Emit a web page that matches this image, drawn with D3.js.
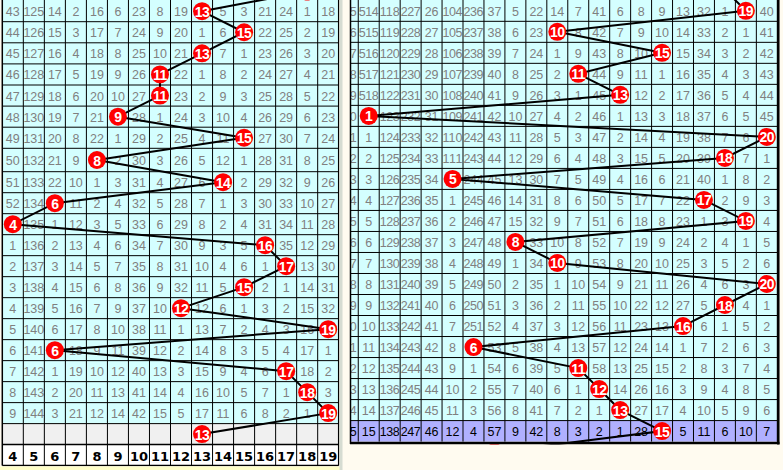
<!DOCTYPE html>
<html><head><meta charset="utf-8">
<script src="https://cdn.jsdelivr.net/npm/d3@7"></script>
<style>html,body{margin:0;padding:0;background:#FFFBF0;}svg{display:block;}</style>
</head><body>
<script>
// ---------- DATA ----------
const leftHeaders = [4,5,6,7,8,9,10,11,12,13,14,15,16,17,18,19];
const leftRows = [
 [43,125,14,2,16,6,23,8,19,null,5,3,21,24,1,18],
 [44,126,15,3,17,7,24,9,20,1,6,null,22,25,2,19],
 [45,127,16,4,18,8,25,10,21,null,7,1,23,26,3,20],
 [46,128,17,5,19,9,26,null,22,1,8,2,24,27,4,21],
 [47,129,18,6,20,10,27,null,23,2,9,3,25,28,5,22],
 [48,130,19,7,21,null,28,1,24,3,10,4,26,29,6,23],
 [49,131,20,8,22,1,29,2,25,4,11,null,27,30,7,24],
 [50,132,21,9,null,2,30,3,26,5,12,1,28,31,8,25],
 [51,133,22,10,1,3,31,4,27,6,null,2,29,32,9,26],
 [52,134,null,11,2,4,32,5,28,7,1,3,30,33,10,27],
 [null,135,1,12,3,5,33,6,29,8,2,4,31,34,11,28],
 [1,136,2,13,4,6,34,7,30,9,3,5,null,35,12,29],
 [2,137,3,14,5,7,35,8,31,10,4,6,1,null,13,30],
 [3,138,4,15,6,8,36,9,32,11,5,null,2,1,14,31],
 [4,139,5,16,7,9,37,10,null,12,6,1,3,2,15,32],
 [5,140,6,17,8,10,38,11,1,13,7,2,4,3,16,null],
 [6,141,null,18,9,11,39,12,2,14,8,3,5,4,17,1],
 [7,142,1,19,10,12,40,13,3,15,9,4,6,null,18,2],
 [8,143,2,20,11,13,41,14,4,16,10,5,7,1,null,3],
 [9,144,3,21,12,14,42,15,5,17,11,6,8,2,1,null]
];
// ball column per row, rows -1 .. 20
const leftBallRows = [-1,0,1,2,3,4,5,6,7,8,9,10,11,12,13,14,15,16,17,18,19,20];
const leftBallCols = [14,9,11,9,7,7,5,11,4,10,2,0,12,13,11,8,15,2,13,14,15,9];

const rightHeaders = [1,2,3,4,5,6,7,8,9,10,11,12,13,14,15,16,17,18,19,20];
const rightPartial = ["5","6","7","8","9","0","1","2","3","4","5","6","7","8","9","0","1","2","3","4","5"];
const rightRows = [
 [514,118,227,26,104,236,37,5,22,14,7,41,6,8,9,13,32,1,null,40],
 [515,119,228,27,105,237,38,6,23,null,8,42,7,9,10,14,33,2,1,41],
 [516,120,229,28,106,238,39,7,24,1,9,43,8,10,null,15,34,3,2,42],
 [517,121,230,29,107,239,40,8,25,2,null,44,9,11,1,16,35,4,3,43],
 [518,122,231,30,108,240,41,9,26,3,1,45,null,12,2,17,36,5,4,44],
 [null,123,232,31,109,241,42,10,27,4,2,46,1,13,3,18,37,6,5,45],
 [1,124,233,32,110,242,43,11,28,5,3,47,2,14,4,19,38,7,6,null],
 [2,125,234,33,111,243,44,12,29,6,4,48,3,15,5,20,39,null,7,1],
 [3,126,235,34,null,244,45,13,30,7,5,49,4,16,6,21,40,1,8,2],
 [4,127,236,35,1,245,46,14,31,8,6,50,5,17,7,22,null,2,9,3],
 [5,128,237,36,2,246,47,15,32,9,7,51,6,18,8,23,1,3,null,4],
 [6,129,238,37,3,247,48,null,33,10,8,52,7,19,9,24,2,4,1,5],
 [7,130,239,38,4,248,49,1,34,null,9,53,8,20,10,25,3,5,2,6],
 [8,131,240,39,5,249,50,2,35,1,10,54,9,21,11,26,4,6,3,null],
 [9,132,241,40,6,250,51,3,36,2,11,55,10,22,12,27,5,null,4,1],
 [10,133,242,41,7,251,52,4,37,3,12,56,11,23,13,null,6,1,5,2],
 [11,134,243,42,8,null,53,5,38,4,13,57,12,24,14,1,7,2,6,3],
 [12,135,244,43,9,1,54,6,39,5,null,58,13,25,15,2,8,3,7,4],
 [13,136,245,44,10,2,55,7,40,6,1,null,14,26,16,3,9,4,8,5],
 [14,137,246,45,11,3,56,8,41,7,2,1,null,27,17,4,10,5,9,6],
 [15,138,247,46,12,4,57,9,42,8,3,2,1,28,null,5,11,6,10,7]
];
const rightBallRows = [-1,0,1,2,3,4,5,6,7,8,9,10,11,12,13,14,15,16,17,18,19,20,21];
const rightBallCols = [17,18,9,14,10,12,0,19,17,4,16,18,7,9,19,17,15,5,10,11,12,14,6];

// ---------- STYLE ----------
const W = 783, H = 470;
const CYAN = "#D4FFFF", GRID = "#000", NUMC = "#808080";
const svg = d3.select("body").append("svg").attr("width", W).attr("height", H);
svg.append("rect").attr("width", W).attr("height", H).attr("fill", "#FFFBF0");

const numFont = "'Liberation Sans', Arial, sans-serif";

function ball(g, cx, cy, label, showLabel) {
  g.append("circle").attr("cx", cx).attr("cy", cy).attr("r", 9).attr("fill", "#FF0000");
  if (!showLabel) return;
  g.append("text").attr("x", cx).attr("y", cy + 0.5).attr("text-anchor", "middle")
    .attr("dominant-baseline", "central").attr("fill", "#fff").attr("font-weight", "bold")
    .attr("font-family", numFont).attr("font-size", 14).attr("letter-spacing", -0.5).text(label);
}

// ---------- LEFT PANEL ----------
const lx = d3.scaleLinear().domain([0, 16]).range([2.3, 338.7]);
const ly = d3.scaleLinear().domain([0, 7, 8, 22]).range([0.6, 148.3, 171.7, 465.6]);
const defs = svg.append("defs");
defs.append("clipPath").attr("id", "clipL").append("rect").attr("x", 0).attr("y", 0).attr("width", 339.5).attr("height", 466.5);
defs.append("clipPath").attr("id", "clipR").append("rect").attr("x", 350.5).attr("y", 0).attr("width", 429).attr("height", 444.5);

const L = svg.append("g").attr("clip-path", "url(#clipL)");
const lcx = c => (lx(c) + lx(c + 1)) / 2;
const lcy = r => (ly(r) + ly(r + 1)) / 2;
L.append("rect").attr("x", lx(0)).attr("y", -30).attr("width", lx(16) - lx(0)).attr("height", ly(20) + 30).attr("fill", CYAN);
L.append("rect").attr("x", lx(0)).attr("y", ly(20)).attr("width", lx(16) - lx(0)).attr("height", ly(21) - ly(20)).attr("fill", "#F0F0F0");
L.append("rect").attr("x", lx(0)).attr("y", ly(21)).attr("width", lx(16) - lx(0)).attr("height", ly(22) - ly(21)).attr("fill", "#FFFFFF");
leftRows.forEach((row, r) => row.forEach((v, c) => {
  if (v === null) return;
  L.append("text").attr("x", lcx(c)).attr("y", lcy(r) + 1).attr("text-anchor", "middle")
    .attr("dominant-baseline", "central").attr("fill", NUMC).attr("font-family", numFont)
    .attr("font-size", 12.5).text(v);
}));
leftHeaders.forEach((h, c) => {
  L.append("text").attr("x", lcx(c)).attr("y", lcy(21) + 1).attr("text-anchor", "middle")
    .attr("dominant-baseline", "central").attr("fill", "#000").attr("font-weight", "bold")
    .attr("font-family", "'DejaVu Sans', sans-serif").attr("font-size", 13).text(h);
});
d3.range(0, 17).forEach(c => L.append("line").attr("x1", lx(c)).attr("x2", lx(c)).attr("y1", -30).attr("y2", ly(22))
  .attr("stroke", GRID).attr("stroke-width", (c === 0 || c === 16) ? 1.5 : 1));
d3.range(1, 23).forEach(r => L.append("line").attr("x1", lx(0)).attr("x2", lx(16)).attr("y1", ly(r)).attr("y2", ly(r))
  .attr("stroke", GRID).attr("stroke-width", (r === 21 || r === 22) ? 1.5 : 1));
const lPts = leftBallRows.map((r, i) => [lcx(leftBallCols[i]), r < 0 ? ly(0) - (ly(1) - ly(0)) / 2 + 1.5 : lcy(r)]);
L.append("path").attr("d", d3.line()(lPts)).attr("fill", "none").attr("stroke", "#000").attr("stroke-width", 2);
leftBallRows.forEach((r, i) => ball(L, lPts[i][0], lPts[i][1], leftHeaders[leftBallCols[i]], r >= 0 && r <= 20));
svg.append("rect").attr("x", 0).attr("y", 466.5).attr("width", 340).attr("height", 4).attr("fill", "#FFFFC8");

// divider
svg.append("rect").attr("x", 339.5).attr("y", 0).attr("width", 3).attr("height", H).attr("fill", "#D6DCD2");

// ---------- RIGHT PANEL ----------
const rx = d3.scaleLinear().domain([-1, 20]).range([337.3, 777.3]);
const ry = d3.scaleLinear().domain([0, 21]).range([0.3, 441.6]);
const rcx = c => (rx(c) + rx(c + 1)) / 2;
const rcy = r => (ry(r) + ry(r + 1)) / 2;
const R = svg.append("g").attr("clip-path", "url(#clipR)");
R.append("rect").attr("x", rx(-1)).attr("y", -30).attr("width", rx(20) - rx(-1)).attr("height", ry(20) + 30).attr("fill", CYAN);
R.append("rect").attr("x", rx(-1)).attr("y", ry(20)).attr("width", rx(20) - rx(-1)).attr("height", ry(21) - ry(20)).attr("fill", "#B0B0FF");
rightPartial.forEach((v, r) => {
  R.append("text").attr("x", rx(0) - 1.5).attr("y", rcy(r) + 1).attr("text-anchor", "end")
    .attr("dominant-baseline", "central").attr("fill", r === 20 ? "#000" : NUMC).attr("font-family", numFont)
    .attr("font-size", 12.5).text(v);
});
rightRows.forEach((row, r) => row.forEach((v, c) => {
  if (v === null) return;
  R.append("text").attr("x", rcx(c)).attr("y", rcy(r) + 1).attr("text-anchor", "middle")
    .attr("dominant-baseline", "central").attr("fill", r === 20 ? "#000" : NUMC).attr("font-family", numFont)
    .attr("font-size", 12.5).attr("textLength", String(v).length >= 3 ? 20 : null).text(v);
}));
d3.range(0, 21).forEach(c => R.append("line").attr("x1", rx(c)).attr("x2", rx(c)).attr("y1", -30).attr("y2", ry(21))
  .attr("stroke", GRID).attr("stroke-width", 1));
d3.range(1, 21).forEach(r => R.append("line").attr("x1", rx(-1)).attr("x2", rx(20)).attr("y1", ry(r)).attr("y2", ry(r))
  .attr("stroke", GRID).attr("stroke-width", 1));
const rPts = rightBallRows.map((r, i) => [rcx(rightBallCols[i]), rcy(r)]);
R.append("path").attr("d", d3.line()(rPts)).attr("fill", "none").attr("stroke", "#000").attr("stroke-width", 2);
rightBallRows.forEach((r, i) => ball(R, rPts[i][0], rPts[i][1], rightHeaders[rightBallCols[i]], r >= 0 && r <= 20));
svg.append("line").attr("x1", 350.5).attr("x2", 350.5).attr("y1", 0).attr("y2", 444).attr("stroke", "#000").attr("stroke-width", 1.5);
svg.append("line").attr("x1", 778.3).attr("x2", 778.3).attr("y1", 0).attr("y2", 444.5).attr("stroke", "#000").attr("stroke-width", 2.5);
svg.append("line").attr("x1", 350).attr("x2", 779.5).attr("y1", 443).attr("y2", 443).attr("stroke", "#000").attr("stroke-width", 2.5);
</script>
</body></html>
